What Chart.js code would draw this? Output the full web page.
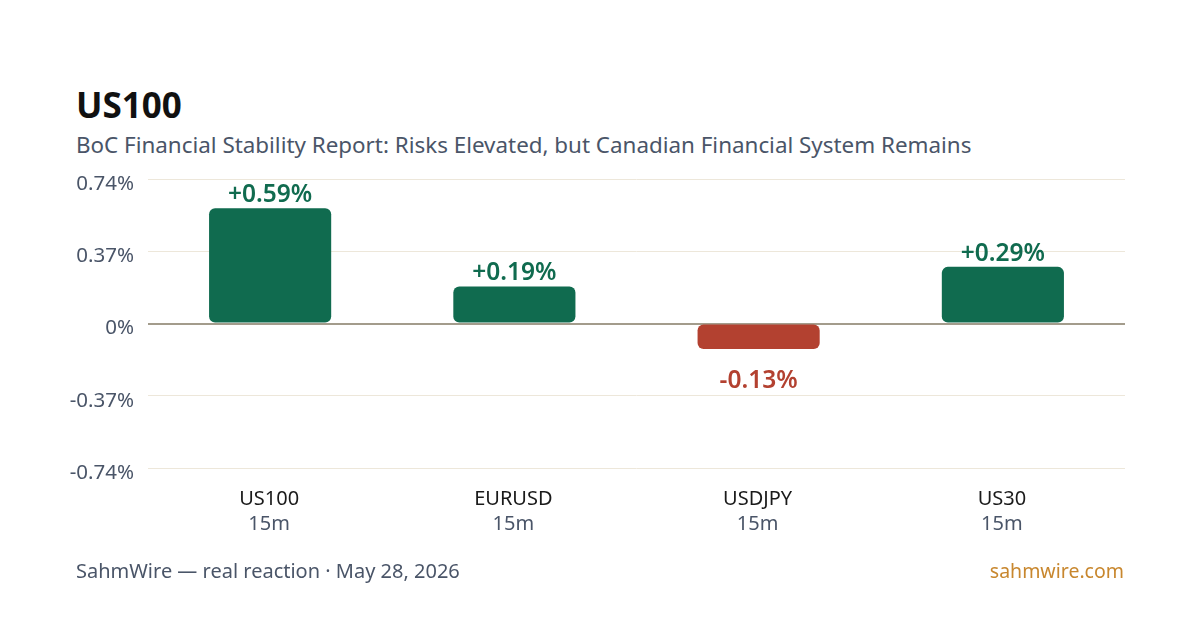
<!DOCTYPE html>
<html>
<head>
<meta charset="utf-8">
<script src="https://cdn.jsdelivr.net/npm/chart.js@4.4.1/dist/chart.umd.min.js"></script>
<style>
  html, body { margin: 0; padding: 0; background: #fff; }
  body { width: 1200px; height: 630px; position: relative; overflow: hidden; font-family: "Noto Sans", "Open Sans", sans-serif; }
  .txt { position: absolute; white-space: nowrap; line-height: 1; }
  #title { left: 76px; top: 87px; font-size: 35px; font-weight: 700; color: #111; }
  #subtitle { left: 76px; top: 134px; font-size: 22.4px; color: #4a5568; }
  #source { left: 76px; top: 561px; font-size: 20px; color: #4a5568; }
  #site { right: 76px; top: 561px; font-size: 19.5px; color: #c8872e; }
  canvas { position: absolute; left: 0; top: 0; }
</style>
</head>
<body>
<div class="txt" id="title">US100</div>
<div class="txt" id="subtitle">BoC Financial Stability Report: Risks Elevated, but Canadian Financial System Remains</div>
<canvas id="chart" width="1200" height="630"></canvas>
<div class="txt" id="source">SahmWire — real reaction · May 28, 2026</div>
<div class="txt" id="site">sahmwire.com</div>
<script>
// chart data
const symbols = ['US100', 'EURUSD', 'USDJPY', 'US30'];
const timeframes = ['15m', '15m', '15m', '15m'];
const changes = [0.59, 0.19, -0.13, 0.29];
const yTicks = [-0.74, -0.37, 0, 0.37, 0.74];

const upColor = '#106b4f';
const downColor = '#b34130';

const fmtTick = v => (v === 0 ? '0' : v.toFixed(2)) + '%';
const fmtChange = v => (v > 0 ? '+' : '') + v.toFixed(2) + '%';

// value labels above / below each bar
const valueLabels = {
  id: 'valueLabels',
  afterDatasetsDraw(chart) {
    const ctx = chart.ctx;
    const meta = chart.getDatasetMeta(0);
    ctx.save();
    ctx.font = '600 24.5px "Noto Sans", sans-serif';
    ctx.textAlign = 'center';
    ctx.textBaseline = 'alphabetic';
    meta.data.forEach((bar, i) => {
      const v = changes[i];
      ctx.fillStyle = v >= 0 ? upColor : downColor;
      const y = v >= 0 ? bar.y - 6 : bar.y + 39;
      ctx.fillText(fmtChange(v), bar.x, y);
    });
    ctx.restore();
  }
};

// two-line category labels, first line dark, second gray
const categoryLabels = {
  id: 'categoryLabels',
  afterDraw(chart) {
    const ctx = chart.ctx;
    const x = chart.scales.x;
    const bottom = chart.chartArea.bottom;
    ctx.save();
    ctx.textAlign = 'center';
    ctx.textBaseline = 'alphabetic';
    symbols.forEach((s, i) => {
      const cx = x.getPixelForValue(i) - 1;
      ctx.font = '20px "Noto Sans", sans-serif';
      ctx.fillStyle = '#1a1a1a';
      ctx.fillText(s, cx, bottom + 37);
      ctx.fillStyle = '#4a5568';
      ctx.fillText(timeframes[i], cx, bottom + 62);
    });
    ctx.restore();
  }
};

new Chart(document.getElementById('chart'), {
  type: 'bar',
  data: {
    labels: symbols,
    datasets: [{
      data: changes,
      backgroundColor: changes.map(v => v >= 0 ? upColor : downColor),
      borderRadius: 6,
      borderSkipped: false,
      categoryPercentage: 1,
      barPercentage: 0.5
    }]
  },
  options: {
    responsive: false,
    animation: false,
    layout: { padding: { left: 60, right: 75, top: 179, bottom: 162 } },
    plugins: {
      legend: { display: false },
      tooltip: { enabled: false }
    },
    scales: {
      x: {
        display: false
      },
      y: {
        min: -0.74,
        max: 0.74,
        afterBuildTicks(scale) {
          scale.ticks = yTicks.map(v => ({ value: v }));
        },
        afterFit(scale) {
          scale.width = 88;
        },
        border: { display: false },
        grid: {
          drawTicks: false,
          color: ctx => ctx.tick && ctx.tick.value === 0 ? '#a39c8c' : '#ede7da',
          lineWidth: ctx => ctx.tick && ctx.tick.value === 0 ? 2 : 1
        },
        ticks: {
          padding: 14,
          labelOffset: 5,
          color: '#4a5568',
          font: { family: '"Noto Sans", sans-serif', size: 20.5 },
          callback: v => fmtTick(v)
        }
      }
    }
  },
  plugins: [valueLabels, categoryLabels]
});
</script>
</body>
</html>
